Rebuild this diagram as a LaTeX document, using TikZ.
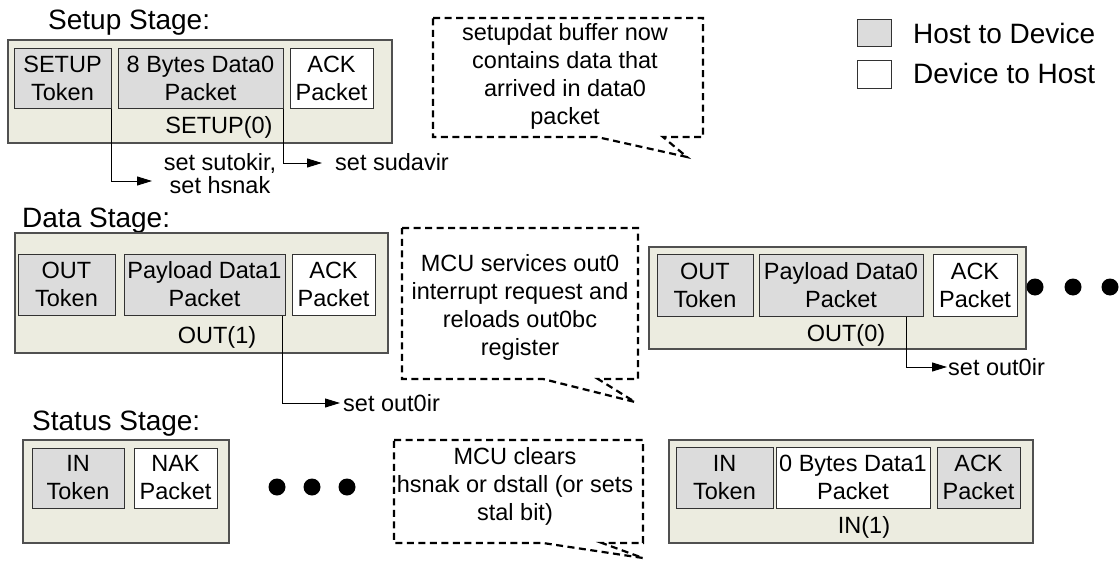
\documentclass[tikz,border=0pt]{standalone}
\usepackage{fontspec}
\setmainfont{Liberation Sans}
\usetikzlibrary{arrows.meta}
\definecolor{outerfill}{RGB}{236,236,224}
\definecolor{outerdraw}{RGB}{80,80,80}
\definecolor{pktgray}{RGB}{220,220,220}
\definecolor{pktdraw}{RGB}{50,50,50}
\newcommand\bodyfont{\fontsize{23.5pt}{28pt}\selectfont}
\newcommand\titlefont{\fontsize{28pt}{32pt}\selectfont}
\begin{document}
\begin{tikzpicture}[x=1pt,y=-1pt,
  stagebox/.style={draw=outerdraw, fill=outerfill, line width=1.2pt, inner sep=0pt},
  hostpkt/.style={draw=pktdraw, fill=pktgray, line width=1pt, inner sep=0pt, align=center, font=\bodyfont},
  devpkt/.style={draw=pktdraw, fill=white, line width=1pt, inner sep=0pt, align=center, font=\bodyfont},
  txt/.style={inner sep=0pt, font=\bodyfont, align=center},
  title/.style={inner sep=0pt, font=\titlefont, anchor=base west},
  conn/.style={line width=1pt, -{Triangle[length=15pt,width=9pt]}},
  callout/.style={draw=black, line width=2.2pt, dash pattern=on 7pt off 4.5pt, line join=miter},
  dot/.style={circle, fill=black, minimum size=17pt, inner sep=0pt}]
\useasboundingbox (0,0) rectangle (1120,562);

% ---------- Legend ----------
\node[hostpkt, minimum width=34pt, minimum height=27pt] (lh) at (874,32.5) {};
\node[devpkt, minimum width=34pt, minimum height=28pt] (ld) at (874,74) {};
\node[title] (lht) at (913,43) {Host to Device};
\node[title] (ldt) at (913,83) {Device to Host};

% ---------- Setup stage ----------
\node[title] (st) at (48,29) {Setup Stage:};
\node[stagebox, minimum width=384pt, minimum height=103pt] (so) at (200,91.5) {};
\node[hostpkt, minimum width=97pt, minimum height=60pt] (stok) at (62.5,78) {SETUP\\Token};
\node[hostpkt, minimum width=165pt, minimum height=60pt] (sdat) at (200.5,78) {8 Bytes Data0\\Packet};
\node[devpkt, minimum width=83pt, minimum height=60pt] (sack) at (331.5,78) {ACK\\Packet};
\node[txt] (slab) at (219,127) {SETUP(0)};
\coordinate (sa1) at (152,181);
\coordinate (sa2) at (322,163);
\draw[conn] (stok.south east) |- (sa1);
\draw[conn] (sdat.south east) |- (sa2);
\node[txt, font=\fontsize{23.5pt}{23pt}\selectfont] (sl1) at (220,174) {set sutokir,\\set hsnak};
\node[txt, anchor=base west] (sl2) at (335,170) {set sudavir};

% callout 1
\draw[callout] (433,18) -- (703,18) -- (703,137) -- (663,137) -- (687,157) -- (597,137) -- (433,137) -- cycle;
\node[txt] (c1) at (565,76) {setupdat buffer now\\contains data that\\arrived in data0\\packet};

% ---------- Data stage ----------
\node[title] (dt) at (22,227) {Data Stage:};
\node[stagebox, minimum width=373pt, minimum height=120pt] (do) at (201.5,293) {};
\node[hostpkt, minimum width=97pt, minimum height=61pt] (dtok) at (66.5,284.5) {OUT\\Token};
\node[hostpkt, minimum width=161pt, minimum height=61pt] (ddat) at (204.5,284.5) {Payload Data1\\Packet};
\node[devpkt, minimum width=83pt, minimum height=61pt] (dack) at (333.5,284.5) {ACK\\Packet};
\node[txt] (dlab) at (217,337) {OUT(1)};
\coordinate (da1) at (340,403);
\draw[conn] ([xshift=-3pt]ddat.south east) |- (da1);
\node[txt, anchor=base west] (dl1) at (343,411) {set out0ir};

% callout 2
\draw[callout] (402,228) -- (638,228) -- (638,379) -- (598,379) -- (635,402) -- (543,379) -- (402,379) -- cycle;
\node[txt] (c2) at (520,307) {MCU services out0\\interrupt request and\\reloads out0bc\\register};

% data right
\node[stagebox, minimum width=377pt, minimum height=102pt] (ro) at (837.5,298) {};
\node[hostpkt, minimum width=96pt, minimum height=62pt] (rtok) at (705,285) {OUT\\Token};
\node[hostpkt, minimum width=164pt, minimum height=62pt] (rdat) at (841,285) {Payload Data0\\Packet};
\node[devpkt, minimum width=84pt, minimum height=62pt] (rack) at (975,285) {ACK\\Packet};
\node[txt] (rlab) at (846,335) {OUT(0)};
\coordinate (ra1) at (947,367);
\draw[conn] ([xshift=-17pt]rdat.south east) |- (ra1);
\node[txt, anchor=base west] (rl1) at (948,375) {set out0ir};
\node[dot] (rd1) at (1035,287) {};
\node[dot] (rd2) at (1073,287) {};
\node[dot] (rd3) at (1110,287) {};

% ---------- Status stage ----------
\node[title] (tt) at (32,430) {Status Stage:};
\node[stagebox, minimum width=206pt, minimum height=103pt] (to) at (126,491.5) {};
\node[hostpkt, minimum width=92pt, minimum height=60pt] (ttok) at (78,478) {IN\\Token};
\node[devpkt, minimum width=83pt, minimum height=60pt] (tnak) at (175.5,478) {NAK\\Packet};
\node[dot] (td1) at (277,487) {};
\node[dot] (td2) at (312,487) {};
\node[dot] (td3) at (347,487) {};

% callout 3
\draw[callout] (394,440) -- (643,440) -- (643,543) -- (602,543) -- (643,558) -- (543,543) -- (394,543) -- cycle;
\node[txt] (c3) at (515,486) {MCU clears\\hsnak or dstall (or sets\\stal bit)};

% status right
\node[stagebox, minimum width=364pt, minimum height=103pt] (uo) at (851,491.5) {};
\node[hostpkt, minimum width=97pt, minimum height=61pt] (utok) at (724.5,477.5) {IN\\Token};
\node[devpkt, minimum width=154pt, minimum height=61pt] (udat) at (853,477.5) {0 Bytes Data1\\Packet};
\node[hostpkt, minimum width=83pt, minimum height=61pt] (uack) at (978.5,477.5) {ACK\\Packet};
\node[txt] (ulab) at (864,527) {IN(1)};
\end{tikzpicture}
\end{document}
